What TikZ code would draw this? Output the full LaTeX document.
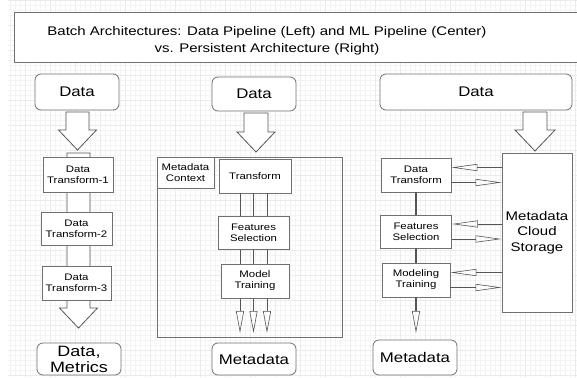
\documentclass[tikz,border=0pt]{standalone}
\usepackage{fontspec}
\setmainfont{Liberation Sans}[FakeStretch=1.2]
\usetikzlibrary{positioning,calc,arrows.meta}
\definecolor{archLine}{HTML}{555555}
\definecolor{archBox}{HTML}{707070}
\definecolor{gridFine}{HTML}{F4F4F4}
\definecolor{gridMajor}{HTML}{EBEBEB}

\tikzset{
  box/.style={draw=archBox, fill=white, line width=0.8pt, align=center,
    inner sep=1pt, font=\fontsize{9.5}{11}\selectfont},
  endbox/.style={box, rounded corners=6pt, font=\fontsize{14}{16}\selectfont},
  hollow/.style={draw=archLine, fill=white, line width=0.8pt, line join=miter},
  flow/.style={draw=archLine, line width=0.9pt},
  openhead/.style={flow, -{Triangle[open, length=22pt, width=8pt, line width=0.6pt]}},
  sidehead/.style={flow, -{Triangle[open, length=26pt, width=7pt, line width=0.6pt]}},
}

% hollow block arrow: x centre, y top, y head base, y tip, half shaft, half head
\newcommand\bigarrow[6]{%
  \draw[hollow] (#1-#5,#2) -- (#1+#5,#2) -- (#1+#5,#3) -- (#1+#6,#3)
    -- (#1,#4) -- (#1-#6,#3) -- (#1-#5,#3) -- cycle;}

\begin{document}
\begin{tikzpicture}[x=1pt, y=-1pt]

\useasboundingbox (0,0) rectangle (577,377);
\clip (0,0) rectangle (577,377);

% --- GRID ---
\draw[gridFine, line width=0.4pt, step=5pt] (8,0) grid (577,377);
\draw[gridMajor, line width=0.4pt, step=25pt] (8,0) grid (577,377);

% --- TITLE ---
\draw[archBox, fill=white, line width=0.8pt] (14,12) rectangle (595,62);
\node[align=center, font=\fontsize{12.5}{16.5}\selectfont] (title) at (267,41)
  {Batch Architectures: Data Pipeline (Left) and ML Pipeline (Center)\\
   vs. Persistent Architecture (Right)};

% --- LEFT: data pipeline ---
\node[endbox, minimum width=84, minimum height=36] (dataL) at (77,92) {Data};
\bigarrow{77.5}{112}{130}{150}{11.5}{19}
\bigarrow{78.5}{153}{308}{328}{11.5}{19}
\node[box, minimum width=70, minimum height=35] (tfA) at (78,174.5) {Data\\Transform-1};
\node[box, minimum width=71, minimum height=33] (tfB) at (76.5,228.5) {Data\\Transform-2};
\node[box, minimum width=69, minimum height=34] (tfC) at (76.5,283) {Data\\Transform-3};
\node[endbox, minimum width=84, minimum height=32, font=\fontsize{15}{16}\selectfont]
  (outL) at (79,359) {Data,\\Metrics};

% --- CENTER: ML pipeline ---
\node[endbox, minimum width=84, minimum height=34] (dataC) at (254,94) {Data};
\bigarrow{256}{113}{132}{152}{12}{19}
\node[draw=archBox, line width=0.8pt, minimum width=185, minimum height=180] (ctx) at (249.5,247) {};
\node[box, anchor=north west, minimum width=57, minimum height=31] (mctx) at (ctx.north west) {Metadata\\Context};
\node[box, minimum width=72, minimum height=34] (trC) at (255,176) {Transform};
\coordinate (endA) at (240,333);
\coordinate (endB) at (253.5,333);
\coordinate (endC) at (267,333);
\foreach \e in {endA,endB,endC}
  \draw[openhead, line width=0.7pt] (trC.south -| \e) -- (\e);
\node[box, minimum width=71, minimum height=33] (fsC) at (253.5,232.5) {Features\\Selection};
\node[box, minimum width=68, minimum height=34] (mtC) at (255,281) {Model\\Training};
\node[endbox, minimum width=84, minimum height=32] (outC) at (254,359) {Metadata};

% --- RIGHT: persistent architecture ---
\node[endbox, minimum width=192, minimum height=36] (dataR) at (476,92) {Data};
\bigarrow{535}{112}{130}{151}{12}{20}
\node[box, minimum width=70, minimum height=159, font=\fontsize{12.5}{15.5}\selectfont]
  (store) at (537,232.5) {Metadata\\Cloud\\Storage};
\node[box, minimum width=70, minimum height=34] (trR) at (416,175) {Data\\Transform};
\node[box, minimum width=71, minimum height=33] (fsR) at (416,231.5) {Features\\Selection};
\node[box, minimum width=68, minimum height=34] (mtR) at (416,280) {Modeling\\Training};
\node[endbox, minimum width=84, minimum height=35] (outR) at (415,357.5) {Metadata};
\coordinate (endR) at (416,333);

\draw[flow, line width=1.1pt] (trR) -- (fsR);
\draw[flow, line width=1.1pt] (fsR) -- (mtR);
\draw[openhead, line width=1.1pt] (mtR) -- (endR);

\foreach \b in {trR,fsR,mtR} {
  \coordinate (\b up) at ($(\b.east)+(0,-7.5)$);
  \coordinate (\b dn) at ($(\b.east)+(0,7.5)$);
  \draw[sidehead] (\b up -| store.west) -- (\b up);
  \draw[sidehead] (\b dn) -- (\b dn -| store.west);
}

\end{tikzpicture}
\end{document}
